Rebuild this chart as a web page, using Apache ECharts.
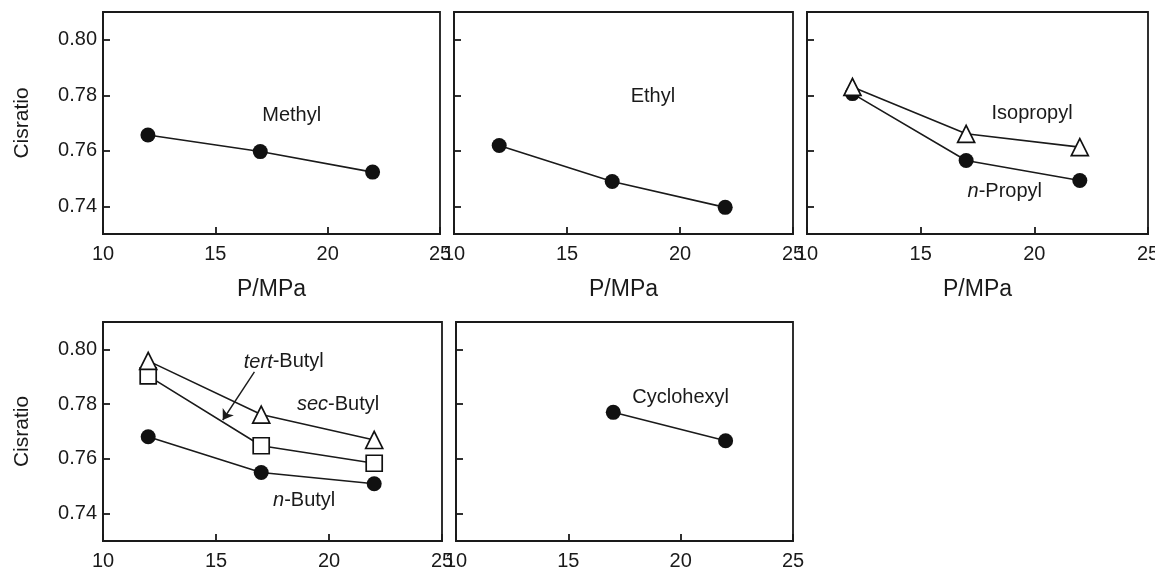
<!DOCTYPE html>
<html>
<head>
<meta charset="utf-8">
<script src="https://cdn.jsdelivr.net/npm/echarts@6/dist/echarts.min.js"></script>
<style>
  html, body { margin: 0; padding: 0; background: #fff; }
  #cisChart { width: 1155px; height: 576px; }
</style>
</head>
<body>
<div id="cisChart"></div>
<script>
// P/MPa values
var pressure = [12, 17, 22];
var cyclohexylPressure = [17, 22];

// cis ratio values
var methyl = [0.7657, 0.7597, 0.7523];
var ethyl = [0.7619, 0.7489, 0.7396];
var nPropyl = [0.7806, 0.7565, 0.7493];
var isopropyl = [0.783, 0.7661, 0.7613];
var secButyl = [0.7958, 0.7762, 0.7669];
var tertButyl = [0.7903, 0.7648, 0.7584];
var nButyl = [0.7681, 0.755, 0.7509];
var cyclohexyl = [0.777, 0.7666];

// axis ticks
var xTicks = [10, 15, 20, 25];
var yTicks = [0.74, 0.76, 0.78, 0.80];

// text labels: [panel, x, y, text]
var annotations = [
  [0, 18.4, 0.7726, "Methyl"],
  [1, 18.8, 0.7794, "Ethyl"],
  [2, 19.9, 0.7734, "Isopropyl"],
  [2, 18.7, 0.7453, "{i|n}-Propyl"],
  [3, 18.0, 0.7954, "{i|tert}-Butyl"],
  [3, 20.4, 0.7800, "{i|sec}-Butyl"],
  [3, 18.9, 0.7447, "{i|n}-Butyl"],
  [4, 20.0, 0.7824, "Cyclohexyl"]
];

var ink = "#1a1a1a";
var font = "'Liberation Sans', Arial, sans-serif";

var grids = [
  { left: 103, top: 12, width: 337, height: 222 },
  { left: 454, top: 12, width: 339, height: 222 },
  { left: 807, top: 12, width: 341, height: 222 },
  { left: 103, top: 322, width: 339, height: 219 },
  { left: 456, top: 322, width: 337, height: 219 }
].map(function (g) {
  g.show = true;
  g.borderColor = ink;
  g.borderWidth = 1.8;
  g.backgroundColor = "transparent";
  g.containLabel = false;
  g.outerBoundsMode = "none";
  return g;
});

var xAxes = grids.map(function (g, i) {
  return {
    type: "value",
    gridIndex: i,
    min: 10,
    max: 25,
    interval: 5,
    name: i < 3 ? "P/MPa" : "",
    nameLocation: "middle",
    nameGap: 44,
    nameTextStyle: { fontSize: 23, color: ink, fontFamily: font },
    axisLine: { show: true, lineStyle: { color: ink, width: 1.8 } },
    axisTick: { show: true, inside: true, length: 7, lineStyle: { color: ink, width: 1.8 } },
    axisLabel: {
      show: true, margin: 10, fontSize: 20, color: ink, fontFamily: font,
      showMinLabel: true, showMaxLabel: true,
      customValues: xTicks
    },
    splitLine: { show: false }
  };
});

var yAxes = grids.map(function (g, i) {
  var first = (i === 0 || i === 3);
  return {
    type: "value",
    gridIndex: i,
    min: 0.73,
    max: 0.81,
    name: first ? "Cisratio" : "",
    nameLocation: "middle",
    nameGap: 70,
    nameTextStyle: { fontSize: 21, color: ink, fontFamily: font },
    axisLine: { show: true, lineStyle: { color: ink, width: 1.8 } },
    axisTick: { show: true, inside: true, length: 7, lineStyle: { color: ink, width: 1.8 }, customValues: yTicks },
    axisLabel: {
      show: first, margin: 6, fontSize: 20, color: ink, fontFamily: font,
      customValues: yTicks,
      formatter: function (v) { return v.toFixed(2); }
    },
    splitLine: { show: false }
  };
});

function pairs(xs, ys) {
  return xs.map(function (x, k) { return [x, ys[k]]; });
}

function lineSeries(name, panel, xs, ys, symbol, filled, size) {
  return {
    name: name,
    type: "line",
    xAxisIndex: panel,
    yAxisIndex: panel,
    data: pairs(xs, ys),
    symbol: symbol,
    symbolSize: size,
    showAllSymbol: true,
    lineStyle: { color: ink, width: 1.6 },
    itemStyle: {
      color: filled ? "#111" : "#fff",
      borderColor: "#111",
      borderWidth: filled ? 0 : 1.7
    },
    z: 3
  };
}

var series = [
  lineSeries("Methyl", 0, pressure, methyl, "circle", true, 15),
  lineSeries("Ethyl", 1, pressure, ethyl, "circle", true, 15),
  lineSeries("n-Propyl", 2, pressure, nPropyl, "circle", true, 15),
  lineSeries("Isopropyl", 2, pressure, isopropyl, "triangle", false, 17),
  lineSeries("n-Butyl", 3, pressure, nButyl, "circle", true, 15),
  lineSeries("tert-Butyl", 3, pressure, tertButyl, "rect", false, 16),
  lineSeries("sec-Butyl", 3, pressure, secButyl, "triangle", false, 17),
  lineSeries("Cyclohexyl", 4, cyclohexylPressure, cyclohexyl, "circle", true, 15)
];

// arrow pointing at the tert-Butyl line
series[5].markLine = {
  silent: true,
  symbol: ["none", "arrow"],
  symbolSize: 10,
  label: { show: false },
  lineStyle: { color: ink, width: 1.4, type: "solid" },
  data: [[{ coord: [16.7, 0.7918] }, { coord: [15.3, 0.7742] }]]
};

for (var p = 0; p < 5; p++) {
  var items = annotations.filter(function (a) { return a[0] === p; });
  if (!items.length) continue;
  series.push({
    type: "scatter",
    xAxisIndex: p,
    yAxisIndex: p,
    silent: true,
    symbolSize: 1,
    itemStyle: { color: "rgba(0,0,0,0)", opacity: 1 },
    data: items.map(function (a) { return { value: [a[1], a[2]], name: a[3] }; }),
    label: {
      show: true,
      position: "inside",
      opacity: 1,
      formatter: function (prm) { return prm.name; },
      fontSize: 20,
      color: ink,
      fontFamily: font,
      rich: { i: { fontStyle: "italic", fontSize: 20, color: ink, fontFamily: font } }
    },
    z: 5
  });
}

var myChart = echarts.init(document.getElementById("cisChart"));
myChart.setOption({
  animation: false,
  backgroundColor: "#fff",
  grid: grids,
  xAxis: xAxes,
  yAxis: yAxes,
  series: series
});
</script>
</body>
</html>
